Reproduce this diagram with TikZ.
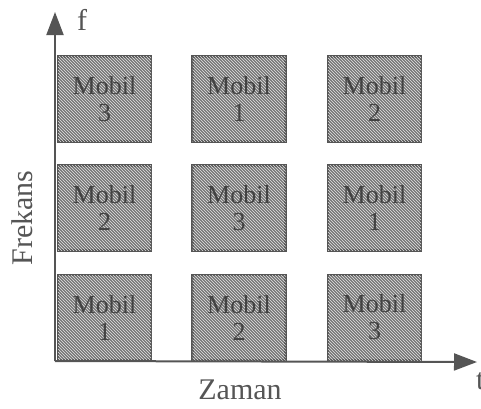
\documentclass[tikz,border=0pt]{standalone}
\usepackage{fontspec}
\setmainfont{Liberation Serif}
\usetikzlibrary{arrows.meta,patterns}
\definecolor{ink}{HTML}{555555}
\definecolor{cellfill}{HTML}{767676}
\definecolor{celltext}{HTML}{424242}
\tikzset{
  slot/.style={draw=ink, line width=2.4pt, fill=cellfill,
    postaction={pattern=north west lines, pattern color=white!80!cellfill},
    minimum width=93pt, minimum height=85pt, inner sep=0pt,
    align=center, text=celltext,
    font=\fontsize{26}{27}\selectfont},
  axis/.style={draw=ink, line width=2pt,
    -{Triangle[length=23pt,width=17pt]}},
  axislabel/.style={text=ink, font=\fontsize{30}{32}\selectfont, inner sep=0pt}
}
\begin{document}
\begin{tikzpicture}[x=1pt,y=-1pt]
  \useasboundingbox (0,0) rectangle (481,408);

  % time-frequency slots
  \node[slot] (r1c1) at (104.5,99) {Mobil\\3};
  \node[slot] (r1c2) at (239,99)   {Mobil\\1};
  \node[slot] (r1c3) at (374.5,99) {Mobil\\2};
  \node[slot] (r2c1) at (104.5,208) {Mobil\\2};
  \node[slot] (r2c2) at (239,208)   {Mobil\\3};
  \node[slot] (r2c3) at (374.5,208) {Mobil\\1};
  \node[slot] (r3c1) at (104.5,317.5) {Mobil\\1};
  \node[slot] (r3c2) at (239,317.5)   {Mobil\\2};
  \node[slot] (r3c3) at (374.5,317.5) {Mobil\\3};

  % axes
  \coordinate (origin) at (55,361);
  \coordinate (ftip) at (55,12);
  \coordinate (ttip) at (477,362);
  \draw[axis] (origin) -- (ftip);
  \draw[axis] (origin) -- (ttip);

  % axis labels
  \node[axislabel] (flabel) at (82,20) {f};
  \node[axislabel] (tlabel) at (476,381) [anchor=west] {t};
  \node[axislabel] (zaman) at (240,390) {Zaman};
  \node[axislabel, rotate=90] (frekans) at (22,218) {Frekans};
\end{tikzpicture}
\end{document}
